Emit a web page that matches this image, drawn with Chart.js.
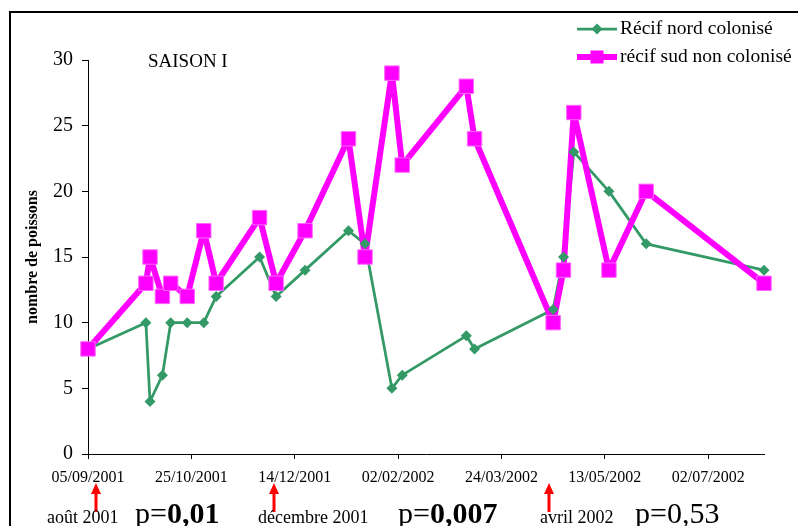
<!DOCTYPE html>
<html>
<head>
<meta charset="utf-8">
<script src="https://cdn.jsdelivr.net/npm/chart.js@4.4.0/dist/chart.umd.min.js"></script>
<style>
	html, body { margin: 0; padding: 0; background: #fff; }
	#wrap { width: 798px; height: 526px; }
</style>
</head>
<body>
<div id="wrap"><canvas id="myChart" width="798" height="526"></canvas></div>
<script>
// sample dates (dd/mm/yyyy) and fish counts
const sampleDates = [
	"05/09/2001", "03/10/2001", "05/10/2001", "11/10/2001", "15/10/2001", "23/10/2001",
	"31/10/2001", "06/11/2001", "27/11/2001", "05/12/2001", "19/12/2001", "09/01/2002",
	"17/01/2002", "30/01/2002", "04/02/2002", "07/03/2002", "11/03/2002", "18/04/2002",
	"23/04/2002", "28/04/2002", "15/05/2002", "02/06/2002", "29/07/2002"
];
const nordValues = [8, 10, 4, 6, 10, 10, 10, 12, 15, 12, 14, 17, 16, 5, 6, 9, 8, 11, 15, 23, 20, 16, 14];
const sudValues = [8, 13, 15, 12, 13, 12, 17, 13, 18, 13, 17, 24, 15, 29, 22, 28, 24, 10, 14, 26, 14, 20, 13];
const seriesNames = ["Récif nord colonisé", "récif sud non colonisé"];
const xTickLabels = ["05/09/2001", "25/10/2001", "14/12/2001", "02/02/2002", "24/03/2002", "13/05/2002", "02/07/2002"];
const xStart = "05/09/2001";
const xEnd = "29/07/2002";
const yMax = 30;
const yStep = 5;
const arrowDates = ["09/09/2001", "04/12/2001", "16/04/2002"];
const seasonNames = ["août 2001", "décembre 2001", "avril 2002"];
const pValues = ["0,01", "0,007", "0,53"];
const pBold = [true, true, false];

const green = "#339966";
const pink = "#ff00ff";
const serif = "'Liberation Serif', 'Times New Roman', serif";

const toDay = (s) => {
	const [d, m, y] = s.split("/").map(Number);
	const [d0, m0, y0] = xStart.split("/").map(Number);
	return Math.round((Date.UTC(y, m - 1, d) - Date.UTC(y0, m0 - 1, d0)) / 864e5);
};

const nordPoints = sampleDates.map((d, i) => ({ x: toDay(d), y: nordValues[i] }));
const sudPoints = sampleDates.map((d, i) => ({ x: toDay(d), y: sudValues[i] }));
const xTickDays = xTickLabels.map(toDay);

// frame, legend, season label and the notes under the axis
const extras = {
	id: "extras",
	beforeDraw(chart) {
		const ctx = chart.ctx;
		ctx.save();
		ctx.fillStyle = "#fff";
		ctx.fillRect(0, 0, chart.width, chart.height);
		ctx.strokeStyle = "#000";
		ctx.lineWidth = 2;
		ctx.beginPath();
		ctx.moveTo(10, chart.height);
		ctx.lineTo(10, 12);
		ctx.lineTo(chart.width, 12);
		ctx.stroke();
		ctx.restore();
	},
	afterDraw(chart) {
		const ctx = chart.ctx;
		const xScale = chart.scales.x;
		ctx.save();
		ctx.fillStyle = "#000";
		ctx.textBaseline = "middle";
		ctx.font = "19px " + serif;
		ctx.fillText("SAISON I", 148, 62);

		// legend
		ctx.lineWidth = 2.75;
		ctx.strokeStyle = green;
		ctx.beginPath();
		ctx.moveTo(577, 29);
		ctx.lineTo(617, 29);
		ctx.stroke();
		ctx.fillStyle = green;
		ctx.beginPath();
		ctx.moveTo(597 - 5.5, 29);
		ctx.lineTo(597, 29 - 5.5);
		ctx.lineTo(597 + 5.5, 29);
		ctx.lineTo(597, 29 + 5.5);
		ctx.closePath();
		ctx.fill();
		ctx.lineWidth = 6;
		ctx.strokeStyle = pink;
		ctx.beginPath();
		ctx.moveTo(577, 57);
		ctx.lineTo(617, 57);
		ctx.stroke();
		ctx.fillStyle = pink;
		ctx.fillRect(597 - 6.5, 57 - 6.5, 13, 13);
		ctx.fillStyle = "#000";
		ctx.font = "19.5px " + serif;
		ctx.fillText(seriesNames[0], 620, 29);
		ctx.fillText(seriesNames[1], 620, 57);

		// red arrows
		ctx.fillStyle = "#ff0000";
		arrowDates.forEach((d) => {
			const x = Math.round(xScale.getPixelForValue(toDay(d)));
			ctx.beginPath();
			ctx.moveTo(x, 483);
			ctx.lineTo(x - 5, 494);
			ctx.lineTo(x + 5, 494);
			ctx.closePath();
			ctx.fill();
			ctx.fillRect(x - 1.5, 493, 3, 19);
		});

		// season names and p values
		ctx.fillStyle = "#000";
		ctx.textBaseline = "alphabetic";
		const seasonX = [47, 258, 540];
		const pX = [135, 398, 635];
		seasonNames.forEach((s, i) => {
			ctx.font = "18px " + serif;
			ctx.fillText(s, seasonX[i], 523);
			ctx.font = "30px " + serif;
			ctx.fillText("p=", pX[i], 523);
			const w = ctx.measureText("p=").width;
			ctx.font = (pBold[i] ? "bold " : "") + "30px " + serif;
			ctx.fillText(pValues[i], pX[i] + w, 523);
		});
		ctx.restore();
	},
};

const config = {
	type: "line",
	data: {
		datasets: [
			{
				label: seriesNames[0],
				data: nordPoints,
				borderColor: green,
				borderWidth: 2.75,
				borderJoinStyle: "round",
				pointRadius: 0,
				tension: 0,
				clip: false,
				order: 3,
			},
			{
				label: seriesNames[1],
				data: sudPoints,
				borderColor: pink,
				borderWidth: 6,
				borderJoinStyle: "round",
				pointRadius: 0,
				tension: 0,
				clip: false,
				order: 2,
			},
			{
				label: seriesNames[0] + " (marqueurs)",
				data: nordPoints,
				showLine: false,
				pointStyle: "rectRot",
				pointRadius: 5.5,
				pointBorderWidth: 0,
				pointBackgroundColor: green,
				pointBorderColor: green,
				clip: false,
				order: 1,
			},
			{
				label: seriesNames[1] + " (marqueurs)",
				data: sudPoints,
				showLine: false,
				pointStyle: "rect",
				pointRadius: 10.2,
				pointBorderWidth: 1,
				pointBackgroundColor: pink,
				pointBorderColor: "#ff66ff",
				clip: false,
				order: 0,
			},
		],
	},
	options: {
		responsive: false,
		animation: false,
		events: [],
		layout: { padding: { top: 60, right: 34, left: 0, bottom: 0 } },
		plugins: {
			legend: { display: false },
			tooltip: { enabled: false },
		},
		scales: {
			x: {
				type: "linear",
				min: 0,
				max: toDay(xEnd),
				afterBuildTicks: (scale) => {
					scale.ticks = xTickDays.map((v) => ({ value: v }));
				},
				afterFit: (scale) => {
					scale.height = 72;
				},
				ticks: {
					autoSkip: false,
					maxRotation: 0,
					color: "#000",
					padding: 9,
					font: { family: serif, size: 16 },
					callback: (v) => xTickLabels[xTickDays.indexOf(v)],
				},
				grid: { drawOnChartArea: false, tickLength: 5, color: "#000" },
				border: { color: "#000", width: 1 },
			},
			y: {
				min: 0,
				max: yMax,
				afterFit: (scale) => {
					scale.width = 88;
				},
				ticks: {
					stepSize: yStep,
					color: "#000",
					padding: 9,
					font: { family: serif, size: 20 },
				},
				title: {
					display: true,
					text: "nombre de poissons",
					color: "#000",
					padding: { top: 23, bottom: 0 },
					font: { family: serif, size: 16, weight: "bold" },
				},
				grid: { drawOnChartArea: false, tickLength: 6, color: "#000" },
				border: { color: "#000", width: 1 },
			},
		},
	},
	plugins: [extras],
};

const myChart = new Chart(document.getElementById("myChart"), config);
</script>
</body>
</html>
